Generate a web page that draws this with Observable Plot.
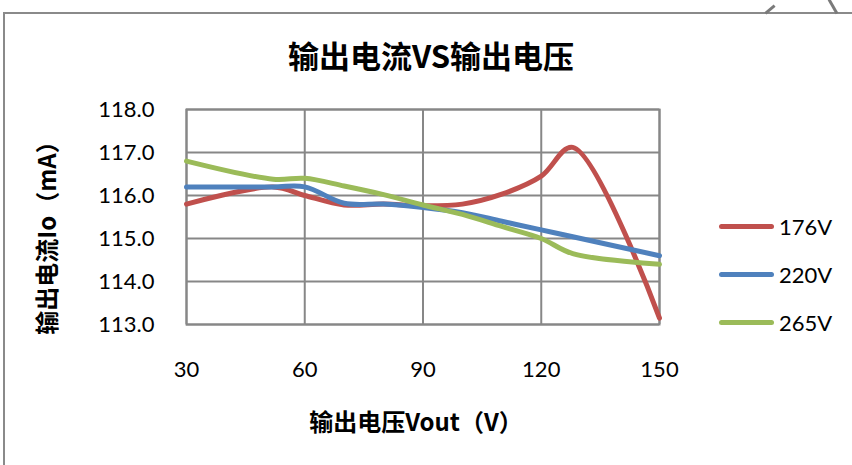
<!DOCTYPE html>
<html><head><meta charset="utf-8">
<script src="https://cdn.jsdelivr.net/npm/d3@7"></script>
<script src="https://cdn.jsdelivr.net/npm/@observablehq/plot@0.6"></script>
<style>
html,body{margin:0;padding:0;background:#fff;}
#wrap{position:relative;width:852px;height:465px;overflow:hidden;background:#fff;}
#border{position:absolute;left:3px;top:12px;width:900px;height:520px;border:2px solid #8a8a8a;box-sizing:border-box;}
.tick{position:absolute;background:#7a7a7a;height:3px;}
#s1{left:764px;top:8px;width:12px;transform:rotate(-40deg);}
#s2{left:825px;top:5px;width:16px;transform:rotate(60deg);}
#chart{position:absolute;left:0;top:0;}
.cjk{font-family:"Noto Sans CJK SC","Noto Sans",sans-serif;font-weight:bold;color:#000;position:absolute;white-space:nowrap;}
#title{font-size:31px;left:431px;top:54px;transform:translate(-50%,-50%);}
#xlabel{font-size:24px;left:416px;top:420px;transform:translate(-50%,-50%);}
#ylabel{font-size:24px;left:45px;top:232px;transform:translate(-50%,-50%) rotate(-90deg);}
#legend{position:absolute;left:719px;top:202px;font-family:Lato,"Open Sans",sans-serif;font-size:22px;color:#000;}
.item{display:flex;align-items:center;height:48px;}
.swatch{width:55px;height:5px;border-radius:3px;margin-right:5px;}
</style>
</head><body>
<div id="wrap">
  <div id="border"></div>
  <div id="s1" class="tick"></div>
  <div id="s2" class="tick"></div>
  <div id="chart"></div>
  <div id="title" class="cjk"></div>
  <div id="xlabel" class="cjk"></div>
  <div id="ylabel" class="cjk"></div>
  <div id="legend"></div>
</div>
<script>
const titleText = "输出电流VS输出电压";
const xLabelText = "输出电压Vout（V）";
const yLabelText = "输出电流Io（mA）";
const voltages = [30, 52, 60, 70, 80, 90, 100, 110, 120, 128, 150];
const seriesNames = ["176V", "220V", "265V"];
const io176 = [115.80, 116.20, 116.00, 115.78, 115.80, 115.76, 115.80, 116.03, 116.45, 117.12, 113.15];
const io220 = [116.20, 116.20, 116.20, 115.82, 115.80, 115.72, 115.60, 115.40, 115.20, 115.04, 114.60];
const io265 = [116.80, 116.38, 116.40, 116.22, 116.02, 115.78, 115.56, 115.28, 115.00, 114.65, 114.40];
const seriesColors = ["#C0504D", "#4F81BD", "#9BBB59"];
const xTicks = [30, 60, 90, 120, 150];
const yTicks = [113, 114, 115, 116, 117, 118];

const values = [io176, io220, io265];
const table = [];
seriesNames.forEach((s, i) => voltages.forEach((v, j) => table.push({series: s, v, io: values[i][j]})));

const grid = "#878787";
const plot = Plot.plot({
  width: 852, height: 465,
  marginTop: 109, marginBottom: 141, marginLeft: 186, marginRight: 193,
  style: {fontFamily: "Lato, 'Open Sans', sans-serif", fontSize: "22px", color: "#000", background: "transparent"},
  x: {domain: [30, 150], ticks: xTicks, tickSize: 0, tickPadding: 37, label: null},
  y: {domain: [113, 118], ticks: yTicks, tickSize: 0, tickPadding: 32, label: null, tickFormat: d => d.toFixed(1)},
  color: {domain: seriesNames, range: seriesColors},
  marks: [
    Plot.gridX(xTicks, {stroke: grid, strokeOpacity: 1, strokeWidth: 2}),
    Plot.gridY(yTicks, {stroke: grid, strokeOpacity: 1, strokeWidth: 2}),
    Plot.frame({stroke: grid, strokeWidth: 2}),
    Plot.line(table, {x: "v", y: "io", z: "series", stroke: "series", strokeWidth: 5, curve: "catmull-rom", strokeLinecap: "round"})
  ]
});
document.getElementById("chart").appendChild(plot);
document.getElementById("title").textContent = titleText;
document.getElementById("xlabel").textContent = xLabelText;
document.getElementById("ylabel").textContent = yLabelText;
const legend = document.getElementById("legend");
seriesNames.forEach((s, i) => {
  const item = document.createElement("div");
  item.className = "item";
  const sw = document.createElement("span");
  sw.className = "swatch";
  sw.style.background = seriesColors[i];
  const t = document.createElement("span");
  t.textContent = s;
  item.appendChild(sw); item.appendChild(t);
  legend.appendChild(item);
});
</script>
</body></html>
